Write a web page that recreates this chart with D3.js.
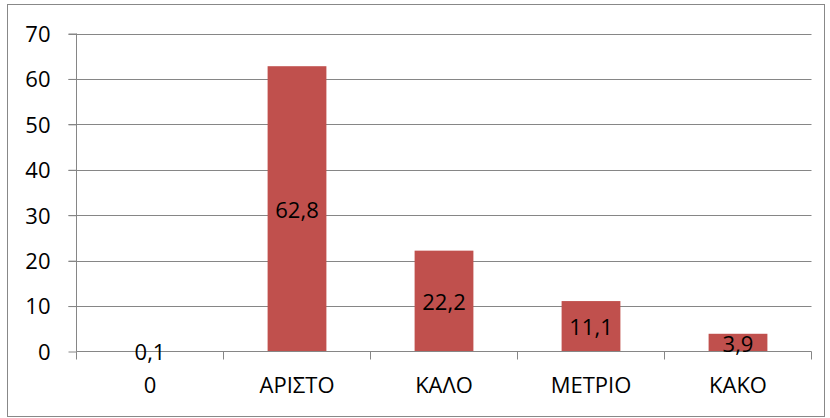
<!DOCTYPE html>
<html><head><meta charset="utf-8">
<script src="https://cdn.jsdelivr.net/npm/d3@7"></script>
<style>body{margin:0;background:#fff}svg{display:block}</style>
</head><body>
<script>
const categories = ["0", "ΑΡΙΣΤΟ", "ΚΑΛΟ", "ΜΕΤΡΙΟ", "ΚΑΚΟ"];
const values = [0.1, 62.8, 22.2, 11.1, 3.9];
const labels = ["0,1", "62,8", "22,2", "11,1", "3,9"];
const yTicks = [0, 10, 20, 30, 40, 50, 60, 70];

(function () {
const W = 830, H = 418;
const svg = d3.select("body").append("svg").attr("width", W).attr("height", H);
const font = "'Open Sans', 'Liberation Sans', sans-serif";
const fs = "22px";

svg.append("rect").attr("x", 7.5).attr("y", 4.5).attr("width", 817).attr("height", 412)
  .attr("fill", "#fff").attr("stroke", "#888").attr("stroke-width", 1);

const pLeft = 76.5, pRight = 811.5, pTop = 33.5, pBottom = 351.5;
const x = d3.scaleBand().domain(categories).range([pLeft, pRight]).paddingInner(0.6).paddingOuter(0.3);
const xb = d3.scaleBand().domain(categories).range([pLeft, pRight]);
const y = d3.scaleLinear().domain([0, 70]).range([pBottom, pTop]);

// gridlines
svg.append("g").selectAll("line").data(yTicks.filter(d => d > 0)).join("line")
  .attr("x1", pLeft - 8).attr("x2", pRight).attr("y1", d => Math.round(y(d)) + 0.5).attr("y2", d => Math.round(y(d)) + 0.5)
  .attr("stroke", "#868686").attr("stroke-width", 1);

// bars
svg.append("g").selectAll("rect").data(values).join("rect")
  .attr("x", (d, i) => x(categories[i]))
  .attr("width", x.bandwidth())
  .attr("y", d => y(d))
  .attr("height", d => pBottom - y(d))
  .attr("fill", "#C0504D");

// y axis
const yAxis = svg.append("g").attr("transform", `translate(${pLeft},0)`)
  .call(d3.axisLeft(y).tickValues(yTicks).tickSize(8).tickPadding(18).tickFormat(d3.format("d")));
yAxis.attr("font-size", null).attr("font-family", null);
yAxis.select(".domain").attr("stroke", "#868686").attr("d", `M0,${pTop}V${pBottom}`);
yAxis.selectAll(".tick line").attr("stroke", "#868686");
yAxis.selectAll(".tick text").style("font-family", font).style("font-size", fs).attr("fill", "#000").attr("dy", "0.36em");

// x axis
const xAxis = svg.append("g").attr("transform", `translate(0,${pBottom})`)
  .call(d3.axisBottom(xb).tickSize(0).tickPadding(26));
xAxis.attr("font-size", null).attr("font-family", null);
xAxis.select(".domain").attr("stroke", "#868686").attr("d", `M${pLeft},0H${pRight}`);
xAxis.selectAll(".tick text").style("font-family", font).style("font-size", fs).attr("fill", "#000");
svg.append("g").selectAll("line").data(categories.concat(["end"])).join("line")
  .attr("x1", (d, i) => pLeft + i * xb.step()).attr("x2", (d, i) => pLeft + i * xb.step())
  .attr("y1", pBottom).attr("y2", pBottom + 8).attr("stroke", "#868686");

// data labels
svg.append("g").selectAll("text").data(values).join("text")
  .attr("x", (d, i) => xb(categories[i]) + xb.bandwidth() / 2)
  .attr("y", d => (y(d) + pBottom) / 2 + 1)
  .attr("dy", "0.36em")
  .attr("text-anchor", "middle")
  .style("font-family", font).style("font-size", fs).attr("fill", "#000")
  .text((d, i) => labels[i]);
})();
</script>
</body></html>
